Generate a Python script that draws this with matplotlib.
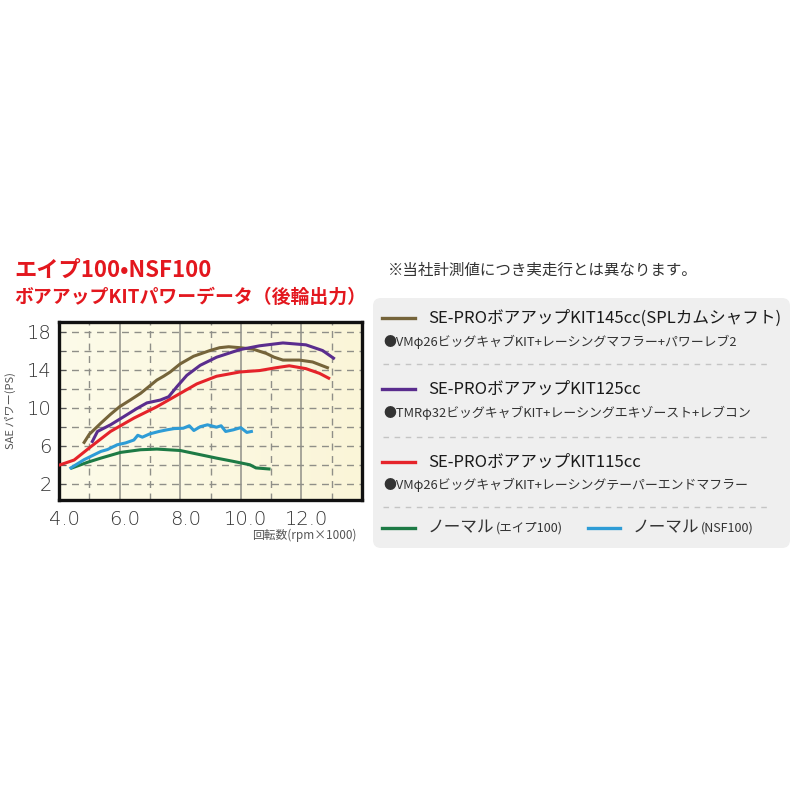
import matplotlib
matplotlib.use("Agg")
import matplotlib.pyplot as plt
from matplotlib.lines import Line2D
from matplotlib.patches import FancyBboxPatch
from matplotlib.colors import LinearSegmentedColormap
import numpy as np

plt.rcParams['font.family'] = ['Noto Sans CJK JP', 'DejaVu Sans']

# ---- data (rpm x1000, PS) ----
kit145_rpm = [4.83, 5.0, 5.38, 5.7, 6.0, 6.35, 6.69, 7.0, 7.23, 7.45, 7.67, 8.0, 8.44, 8.98, 9.3, 9.6, 9.97, 10.4, 10.84, 11.1, 11.39, 11.7, 11.93, 12.37, 12.86]
kit145_ps  = [6.35, 7.2, 8.37, 9.3, 10.1, 10.8, 11.5, 12.3, 12.9, 13.3, 13.75, 14.6, 15.4, 16.0, 16.3, 16.4, 16.3, 16.15, 15.7, 15.3, 15.0, 15.0, 15.0, 14.8, 14.2]

kit125_rpm = [5.1, 5.27, 5.7, 6.14, 6.58, 6.9, 7.34, 7.62, 7.89, 8.22, 8.66, 9.2, 9.97, 10.62, 11.39, 12.15, 12.7, 13.06]
kit125_ps  = [6.45, 7.5, 8.2, 9.06, 9.93, 10.5, 10.8, 11.15, 12.2, 13.4, 14.45, 15.3, 16.1, 16.5, 16.8, 16.6, 16.0, 15.2]

kit115_rpm = [4.04, 4.5, 5.05, 5.7, 6.47, 7.23, 7.89, 8.55, 9.2, 9.97, 10.62, 11.17, 11.6, 12.15, 12.6, 12.9]
kit115_ps  = [4.0, 4.5, 5.9, 7.5, 8.9, 10.1, 11.3, 12.5, 13.3, 13.75, 13.9, 14.2, 14.4, 14.1, 13.6, 13.1]

nsf_rpm = [4.39, 4.83, 5.38, 5.6, 5.92, 6.2, 6.47, 6.6, 6.75, 7.0, 7.3, 7.56, 7.8, 8.1, 8.3, 8.45, 8.66, 8.9, 9.2, 9.35, 9.5, 9.75, 10.0, 10.2, 10.35]
nsf_ps  = [3.67, 4.54, 5.4, 5.6, 6.1, 6.3, 6.6, 7.1, 6.9, 7.25, 7.5, 7.67, 7.8, 7.84, 8.1, 7.6, 8.0, 8.2, 7.95, 8.1, 7.5, 7.67, 7.9, 7.4, 7.5]

ape_rpm = [4.43, 4.94, 5.38, 6.03, 6.69, 7.23, 8.0, 8.66, 9.2, 9.75, 10.3, 10.5, 10.93]
ape_ps  = [3.67, 4.26, 4.7, 5.3, 5.58, 5.65, 5.5, 5.06, 4.7, 4.36, 4.0, 3.67, 3.56]

xticks = [4.0, 6.0, 8.0, 10.0, 12.0]
yticks = [2, 6, 10, 14, 18]

C145 = '#75643a'
C125 = '#5a2d8e'
C115 = '#e5232a'
CAPE = '#1d7a45'
CNSF = '#2e9cd6'
TXT = '#333333'

fig = plt.figure(figsize=(8, 8), dpi=100)
ax = fig.add_axes([59/800, 1-500/800, 303/800, 178/800])
ax.set_xlim(4, 14)
ax.set_ylim(0.3, 19.0)

grad = np.linspace(0, 1, 256).reshape(1, -1)
cm = LinearSegmentedColormap.from_list('c', ['#fdfbe9', '#faf5d8'])
ax.imshow(grad, extent=[4, 14, 0.3, 19.0], aspect='auto', cmap=cm, zorder=0)

for x in [6, 8, 10, 12]:
    ax.axvline(x, color='#8f8f88', lw=1.1, zorder=1)
for x in [5, 7, 9, 11, 13]:
    ax.axvline(x, color='#8f8f88', lw=1.0, ls=(0, (5, 4)), zorder=1)
for y in range(2, 19, 2):
    ax.axhline(y, color='#8f8f88', lw=1.0, ls=(0, (5, 4)), zorder=1)

lw = 2.2
ax.plot(ape_rpm, ape_ps, color=CAPE, lw=lw, zorder=3)
ax.plot(nsf_rpm, nsf_ps, color=CNSF, lw=lw, zorder=3)
ax.plot(kit115_rpm, kit115_ps, color=C115, lw=lw, zorder=4)
ax.plot(kit145_rpm, kit145_ps, color=C145, lw=lw, zorder=4)
ax.plot(kit125_rpm, kit125_ps, color=C125, lw=lw, zorder=5)

ax.set_xticks(xticks)
ax.set_xticklabels([f'{v:.1f}' for v in xticks])
ax.set_yticks(yticks)
ax.set_yticks([4, 8, 12, 16], minor=True)
ax.tick_params(axis='both', which='major', labelsize=14, labelcolor=TXT, length=0)
ax.tick_params(axis='y', which='major', direction='in', length=5, color='#555555', pad=5)
ax.tick_params(axis='y', which='minor', direction='in', length=5, color='#555555')
ax.tick_params(axis='x', which='major', pad=7)
for lab in ax.get_xticklabels() + ax.get_yticklabels():
    lab.set_fontfamily(['DejaVu Sans'])
    lab.set_fontweight('light')
import matplotlib.transforms as mtrans
off = mtrans.ScaledTranslation(5/100, 0, fig.dpi_scale_trans)
for lab in ax.get_xticklabels():
    lab.set_transform(lab.get_transform() + off)
for s in ax.spines.values():
    s.set_linewidth(2.4)
    s.set_color('#111111')

ax.set_ylabel('SAE パワー(PS)', fontsize=8, color='#555555', labelpad=8)
fig.text(357/800, 1-535/800, '回転数(rpm×1000)', fontsize=8.5, color='#555555', ha='right', va='center')

# titles
fig.text(14/800, 1-270/800, 'エイプ100•NSF100', fontsize=16, color='#e3171e', fontweight='bold', ha='left', va='center')
fig.text(14/800, 1-297/800, 'ボアアップKITパワーデータ（後輪出力）', fontsize=13.6, color='#e3171e', fontweight='bold', ha='left', va='center')

# note
fig.text(388/800, 1-270/800, '※当社計測値につき実走行とは異なります。', fontsize=11.2, color=TXT, ha='left', va='center')

# legend panel
panel = FancyBboxPatch((373/800, 1-548/800), 417/800, 250/800,
                       boxstyle='round,pad=0,rounding_size=0.01',
                       transform=fig.transFigure, facecolor='#efefef', edgecolor='none')
fig.add_artist(panel)

def sw(x0, x1, y, c):
    fig.add_artist(Line2D([x0/800, x1/800], [1-y/800, 1-y/800], color=c, lw=2.4, transform=fig.transFigure))

def sep(y):
    fig.add_artist(Line2D([383/800, 770/800], [1-y/800, 1-y/800], color='#c4c4c4', lw=1.0,
                          ls=(0, (4, 4)), transform=fig.transFigure))

entries = [
    (318, 342, C145, 'SE-PROボアアップKIT145cc(SPLカムシャフト)', '●VMφ26ビッグキャブKIT+レーシングマフラー+パワーレブ2'),
    (389, 413, C125, 'SE-PROボアアップKIT125cc', '●TMRφ32ビッグキャブKIT+レーシングエキゾースト+レブコン'),
    (462, 485, C115, 'SE-PROボアアップKIT115cc', '●VMφ26ビッグキャブKIT+レーシングテーパーエンドマフラー'),
]
for y1, y2, c, t1, t2 in entries:
    sw(382, 415, y1, c)
    fig.text(428/800, 1-y1/800, t1, fontsize=12, color='#1a1a1a', ha='left', va='center')
    fig.text(383/800, 1-y2/800, t2, fontsize=9.3, color=TXT, ha='left', va='center')
for y in [364, 437, 507]:
    sep(y)

fig.canvas.draw()
r = fig.canvas.get_renderer()

def pair(x, y, big, small):
    t = fig.text(x/800, 1-y/800, big, fontsize=12, color=TXT, ha='left', va='center')
    bb = t.get_window_extent(renderer=r)
    fig.text(bb.x1/800 + 1/800, 1-y/800, small, fontsize=9, color=TXT, ha='left', va='center')

sw(382, 415, 528, CAPE)
pair(428, 528, 'ノーマル', '(エイプ100)')
sw(588, 620, 528, CNSF)
pair(633, 528, 'ノーマル', '(NSF100)')

fig.savefig('out.png', dpi=100, facecolor='white')
